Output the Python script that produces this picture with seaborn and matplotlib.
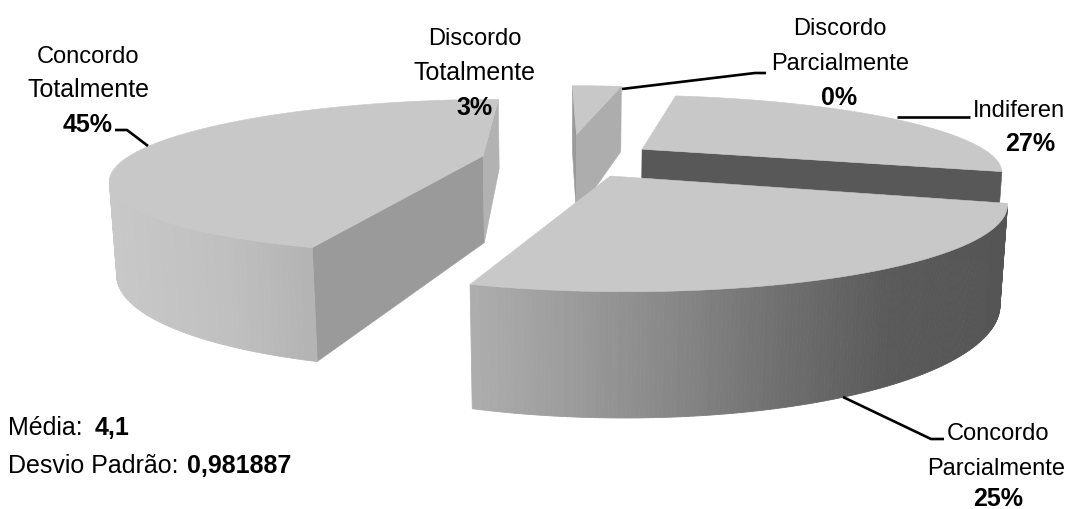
import numpy as np
import matplotlib
matplotlib.use("Agg")
import matplotlib.pyplot as plt
from matplotlib.patches import Rectangle
import seaborn as sns

# ---- data ----
categories = ["Indiferente", "Concordo Parcialmente", "Concordo Totalmente",
              "Discordo Totalmente", "Discordo Parcialmente"]
values = [27, 25, 45, 3, 0]
media = "4,1"
desvio = "0,981887"

# ---- 3D pie model: camera (pie plane -> picture), first angle, explosion ----
CAMERA = np.array([[386.598, 31.8147, 8.5245, 566.338],
                   [-13.5553, 26.9924, 91.0645, 159.572],
                   [0.127606, -0.236298, 0.0149309, 1.0]])
START = 0.665492
EXPLODE = [0.257907, 0.252336, 0.23915, 0.363947, 0.0]
DRAW_ORDER = [3, 0, 2, 1]
TOP_GREY = "#c8c8c8"
CUT_GREY = {(0, 1): "#585858", (2, 0): "#9a9a9a", (2, 1): "#b2b2b2", (3, 1): "#adadad",
            (0, 0): "#585858", (1, 0): "#585858", (1, 1): "#aaaaaa", (3, 0): "#9a9a9a"}

sns.set_theme(style="white")
wall_cmap = sns.blend_palette(["#c8c8c8", "#c0c0c0", "#b0b0b0", "#b2b2b2", "#9e9e9e",
                               "#888888", "#707070", "#5a5a5a", "#555555"], as_cmap=True)
WALL_X = (110, 1005)

plt.rcParams["font.family"] = ["Liberation Sans", "DejaVu Sans"]

fr = np.array(values, float) / sum(values)
cum = np.concatenate([[0], np.cumsum(fr)])


def project(s, t, z, r=1.0):
    t = np.atleast_1d(np.asarray(t, float))
    mid = START + 2 * np.pi * (cum[s] + cum[s + 1]) / 2
    ang = START + 2 * np.pi * (cum[s] + t * fr[s])
    x = EXPLODE[s] * np.sin(mid) + r * np.sin(ang)
    y = -EXPLODE[s] * np.cos(mid) - r * np.cos(ang)
    v = CAMERA @ np.vstack([x, y, z * np.ones_like(x), np.ones_like(x)])
    return v[0] / v[2], v[1] / v[2]


fig = plt.figure(figsize=(10.69, 5.10), dpi=100, facecolor="white")
ax = fig.add_axes([0, 0, 1, 1])
ax.set_xlim(0, 1069)
ax.set_ylim(510, 0)
ax.axis("off")

tt = np.linspace(0, 1, 181)
for s in DRAW_ORDER:
    u, v = project(s, tt, 0)
    ub, vb = project(s, tt, 1)
    au, av = project(s, [0.0], 0, r=0.0)
    abu, abv = project(s, [0.0], 1, r=0.0)
    # flat cut faces, only those turned to the viewer
    for end in (0, 1):
        i = -1 if end else 0
        cross = (u[i] - au[0]) * (abv[0] - av[0]) - (v[i] - av[0]) * (abu[0] - au[0])
        if (end == 1 and cross > 0) or (end == 0 and cross < 0):
            ax.fill([au[0], u[i], ub[i], abu[0]], [av[0], v[i], vb[i], abv[0]],
                    color=CUT_GREY[(s, end)], lw=0.4, zorder=2)
    # outer wall, strip by strip
    for i in range(len(tt) - 1):
        cross = (u[i + 1] - u[i]) * (vb[i] - v[i]) - (v[i + 1] - v[i]) * (ub[i] - u[i])
        if cross < 0:
            c = wall_cmap((0.5 * (u[i] + u[i + 1]) - WALL_X[0]) / (WALL_X[1] - WALL_X[0]))
            ax.fill([u[i], u[i + 1], ub[i + 1], ub[i]], [v[i], v[i + 1], vb[i + 1], vb[i]],
                    color=c, lw=0.6, zorder=2)
    ax.fill(np.r_[au[0], u], np.r_[av[0], v], color=TOP_GREY, lw=0.4, zorder=3)

# leader lines
leaders = [([115, 127, 148], [131, 131, 147]),
           ([622, 755, 766], [90, 74, 74]),
           ([897, 970], [118, 118]),
           ([843, 931, 944], [398, 440, 440])]
for lx, ly in leaders:
    ax.plot(lx, ly, color="black", lw=1.9, solid_capstyle="butt", zorder=4)

# labels
FS = 17
clip = Rectangle((0, 0), 1064, 510, transform=ax.transData)


def lab(x, y, s, bold=False, ha="center", size=FS):
    t = ax.text(x, y, s, ha=ha, va="baseline", fontsize=size, color="black",
                fontweight="bold" if bold else "normal", zorder=5)
    t.set_clip_path(clip)
    t.set_clip_on(True)
    return t


lab(88, 63, "Concordo"); lab(88, 97, "Totalmente", size=18); lab(88, 132, f"{values[2]}%", True, size=18)
lab(475, 45, "Discordo"); lab(475, 80, "Totalmente", size=18); lab(475, 115, f"{values[3]}%", True, size=18)
lab(840, 35, "Discordo"); lab(840, 70, "Parcialmente"); lab(839, 105, f"{values[4]}%", True, size=18)
lab(973, 117, "Indiferente", ha="left"); lab(1030, 151, f"{values[0]}%", True, size=18)
lab(998, 440, "Concordo"); lab(996, 475, "Parcialmente"); lab(998, 506, f"{values[1]}%", True, size=18)
lab(8, 435, "Média:", ha="left", size=18); lab(95, 435, media, True, ha="left", size=18)
lab(8, 473, "Desvio Padrão:", ha="left", size=18); lab(187, 473, desvio, True, ha="left", size=18)

sns.despine(ax=ax, left=True, bottom=True)
fig.savefig("out.png", dpi=100, facecolor="white")
